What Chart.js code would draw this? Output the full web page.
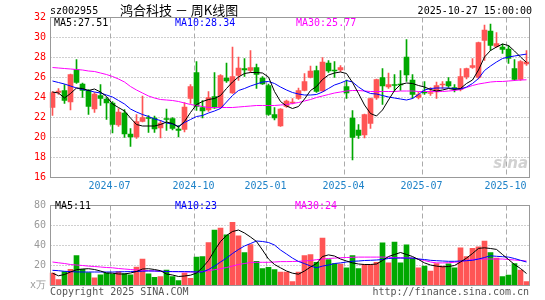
<!DOCTYPE html>
<html>
<head>
<meta charset="utf-8">
<script src="https://cdn.jsdelivr.net/npm/chart.js@4/dist/chart.umd.min.js"></script>
<style>
  html, body { margin: 0; padding: 0; background: #fff; }
  #wrap { position: relative; width: 545px; height: 300px; overflow: hidden; }
  #kline { position: absolute; left: 0; top: 0; }
  #vol { position: absolute; left: 0; top: 196px; }
</style>
</head>
<body>
<div id="wrap">
  <canvas id="kline" width="545" height="196"></canvas>
  <canvas id="vol" width="545" height="104"></canvas>
</div>
<script>
// 周K数据
const opens = [23.0,24.5,24.7,23.55,26.8,25.35,24.7,22.85,24.2,23.85,
  23.45,21.25,22.45,20.35,20.05,21.6,22.0,21.95,20.95,21.9,
  21.9,20.85,20.8,23.9,26.5,23.0,22.75,24.1,23.0,25.95,
  24.45,26.2,26.9,26.7,27.0,25.95,25.2,22.3,21.15,23.1,
  23.45,23.9,24.7,26.0,26.7,24.65,27.45,26.75,26.75,25.1,
  21.95,20.75,20.25,21.4,23.95,26.0,25.05,25.3,25.35,28.05,
  25.75,24.0,24.55,24.4,24.55,25.25,25.6,25.0,24.8,26.05,
  27.0,26.0,29.7,30.65,29.1,29.05,28.85,26.9,25.8,27.35];
const closes = [24.5,24.65,23.7,26.3,25.5,24.7,23.1,24.35,23.9,23.45,
  21.3,22.55,20.35,20.05,21.6,22.0,21.9,20.85,21.45,21.8,
  20.9,20.7,23.05,25.1,23.1,22.65,24.0,22.95,26.2,25.65,
  26.1,26.95,26.75,27.0,26.3,25.35,22.3,21.95,22.85,23.65,
  23.55,24.7,25.6,26.65,24.6,27.55,26.65,26.65,27.0,24.45,
  20.0,20.2,22.3,23.9,25.8,25.15,25.3,25.2,25.25,26.25,
  24.3,24.3,24.45,24.5,25.2,25.35,25.15,24.85,26.1,26.9,
  27.2,29.5,30.75,29.2,29.4,28.8,27.9,25.8,27.6,27.55];
const highs = [24.6,24.9,25.3,26.35,27.8,25.45,24.8,24.5,25.3,24.0,
  23.6,22.9,22.8,20.9,22.3,24.15,22.2,22.15,21.7,22.85,
  22.0,21.2,23.5,25.3,27.6,23.7,24.6,26.5,26.3,27.45,
  29.05,28.05,27.9,28.7,27.35,26.1,25.35,23.0,22.9,23.75,
  23.9,24.95,26.4,27.15,27.15,28.0,27.7,27.6,27.2,25.75,
  22.7,21.3,22.35,23.95,25.85,26.9,26.45,26.3,26.7,29.8,
  26.3,24.55,25.6,25.0,25.55,25.6,26.0,25.3,26.9,26.95,
  27.9,29.55,31.25,31.35,30.5,29.35,29.2,27.8,27.7,28.7];
const lows = [22.2,24.3,23.4,22.75,25.4,24.0,22.3,22.5,23.2,21.8,
  20.45,21.1,20.0,19.1,19.9,21.55,20.5,20.5,19.95,20.7,
  20.75,20.05,20.55,23.4,22.7,21.95,22.6,22.9,22.9,25.5,
  24.4,25.7,26.1,26.5,24.9,25.3,22.2,21.75,21.1,23.0,
  23.35,23.8,24.65,25.95,24.5,24.6,26.5,26.0,26.6,23.9,
  17.75,19.9,19.95,20.9,23.8,23.3,24.9,24.6,24.7,25.6,
  23.9,23.85,24.3,24.2,23.9,24.9,25.0,24.55,24.65,25.85,
  26.9,25.85,27.7,28.7,29.0,28.4,27.4,25.7,25.7,27.2];

// 均线
const ma5 = [24.55,24.45,23.95,24.4,24.95,24.9,24.7,24.85,24.55,24.1,
  23.35,23.0,22.65,21.95,21.3,21.15,21.15,21.15,21.3,21.55,
  21.4,21.05,21.6,22.5,23.3,23.6,23.8,23.9,24.2,24.9,
  25.55,26.05,26.4,26.5,26.5,26.45,26.05,24.6,23.6,23.15,
  22.9,23.1,23.85,24.7,25.1,25.8,26.25,26.45,26.55,26.4,
  25.5,24.4,23.25,22.4,22.15,22.75,23.75,24.7,25.3,25.45,
  25.4,25.2,25.05,24.8,24.65,24.75,24.9,24.8,24.9,25.4,
  25.75,26.75,28.05,28.7,29.05,29.35,29.2,28.65,28.05,27.51];
const ma10 = [25.65,25.5,25.35,25.15,24.95,24.8,24.7,24.55,24.45,24.25,
  24.05,23.7,23.35,22.85,22.55,22.3,22.1,21.85,21.7,21.45,
  21.35,21.1,21.5,21.8,22.1,22.2,22.45,22.65,22.9,23.55,
  24.2,24.7,24.9,25.15,25.35,25.55,25.6,25.4,25.05,24.75,
  24.5,24.35,24.25,24.25,24.3,24.55,24.9,25.25,25.45,25.7,
  25.55,25.05,24.65,24.4,24.35,24.2,24.05,23.95,23.85,23.75,
  23.9,24.3,24.75,24.9,24.95,24.95,24.95,24.9,24.85,25.05,
  25.4,25.9,26.7,27.15,27.55,27.9,28.05,28.15,28.25,28.34];
const ma30 = [27.0,26.95,26.9,26.85,26.8,26.75,26.65,26.6,26.45,26.3,
  26.1,25.85,25.55,25.1,24.75,24.45,24.15,23.95,23.8,23.75,
  23.7,23.6,23.45,23.3,23.2,23.1,23.0,23.0,23.0,23.0,
  23.0,23.05,23.1,23.15,23.2,23.2,23.2,23.2,23.25,23.3,
  23.4,23.5,23.65,23.8,24.0,24.15,24.3,24.45,24.55,24.65,
  24.7,24.7,24.65,24.6,24.6,24.6,24.6,24.6,24.65,24.65,
  24.65,24.6,24.6,24.6,24.6,24.6,24.65,24.7,24.8,25.0,
  25.2,25.35,25.45,25.55,25.6,25.6,25.65,25.7,25.75,25.77];

// 成交量 (万)
const volumes = [12.3,5.8,13.9,16.1,30.0,16.1,12.9,7.7,10.6,12.3,
  11.3,13.9,11.9,10.6,18.4,26.5,11.6,8.1,9.0,15.5,
  9.0,4.8,12.3,7.1,28.4,29.0,42.9,55.5,57.4,50.6,
  63.2,49.7,32.9,41.0,24.2,16.8,18.1,15.8,13.5,13.5,
  3.9,13.5,30.0,31.0,23.2,47.4,25.8,21.9,21.3,17.7,
  30.0,16.8,21.0,21.0,23.2,42.6,22.6,43.5,22.6,40.6,
  27.4,17.7,19.4,14.5,21.9,19.4,21.6,17.7,37.7,29.0,
  37.1,38.7,44.5,32.9,27.4,9.0,10.3,21.9,15.5,3.9];
const volMa5 = [12.3,9.7,11.0,13.5,15.8,16.5,16.8,16.0,14.5,12.5,
  12.3,11.5,11.5,12.5,14.0,16.5,16.8,16.0,14.8,11.5,
  10.5,9.0,9.5,10.3,12.5,18.0,25.0,35.0,44.0,50.0,
  54.0,55.5,52.5,48.5,44.0,35.5,26.5,21.0,17.7,14.5,
  12.3,11.3,14.5,18.5,22.0,29.0,30.6,29.5,26.5,24.5,
  22.6,21.5,21.0,21.0,21.5,25.0,29.0,31.0,33.0,31.0,
  29.0,26.0,22.6,20.5,19.4,18.7,19.0,20.0,23.5,27.4,
  32.0,37.1,37.7,37.0,36.1,31.0,26.0,21.0,17.0,12.0];
const volMa10 = [15.2,14.8,14.2,13.9,13.6,13.5,13.5,13.5,13.5,13.5,
  13.5,13.6,13.8,13.9,14.0,14.3,14.5,14.5,14.3,14.0,
  13.9,13.9,13.9,13.8,13.6,13.5,16.0,19.4,23.5,27.4,
  32.0,36.0,39.5,42.0,44.5,44.0,43.0,40.5,35.5,31.5,
  27.4,24.0,21.9,19.5,17.7,19.4,20.5,22.0,22.6,23.5,
  24.2,24.5,25.0,25.2,25.5,26.0,27.0,27.4,27.4,27.4,
  27.4,26.5,26.0,25.2,24.8,24.5,24.2,24.2,24.5,24.8,
  25.2,26.5,28.0,29.7,29.2,28.8,28.4,27.0,25.2,23.5];
const volMa30 = [23.5,22.7,22.0,21.0,20.5,20.0,19.4,19.0,18.5,18.0,
  17.7,17.0,16.5,16.0,15.5,15.2,14.8,14.5,14.2,14.0,
  13.9,13.8,13.6,13.5,13.5,14.0,14.8,15.8,16.8,18.0,
  19.5,21.0,22.0,23.0,23.2,23.2,23.2,23.5,23.9,23.9,
  24.0,24.2,24.5,25.0,25.8,26.5,27.0,27.4,27.8,28.0,
  28.2,28.4,28.4,28.4,28.4,28.4,28.2,28.0,27.8,27.6,
  27.4,26.5,25.0,23.5,22.6,22.6,22.8,23.2,24.0,25.0,
  26.0,26.5,26.5,26.5,26.5,26.5,26.0,25.5,25.0,24.5];

// 月份刻度
const monthIndex = [10, 24, 36, 49, 62, 76];
const monthLabels = ['2024-07', '2024-10', '2025-01', '2025-04', '2025-07', '2025-10'];

// 文字
const stockCode = 'sz002955';
const chartTitle = '鸿合科技 － 周K线图';
const updateTime = '2025-10-27 15:00:00';
const priceLegend = ['MA5:27.51', 'MA10:28.34', 'MA30:25.77'];
const volLegend = ['MA5:11', 'MA10:23', 'MA30:24'];

const RED = '#ff5555';
const GREEN = '#00a800';
const MONO = '"DejaVu Sans Mono", monospace';
const candleColors = closes.map((c, i) => c >= opens[i] ? RED : GREEN);
const labels = closes.map((c, i) => i);

Chart.defaults.font.family = MONO;
Chart.defaults.font.size = 10;

// 网格: 横向点线, 月份竖向虚线
const gridPlugin = {
  id: 'dashGrid',
  beforeDatasetsDraw(chart) {
    const { ctx, chartArea: a, scales: { x, y } } = chart;
    ctx.save();
    ctx.lineWidth = 1;
    ctx.strokeStyle = '#a0a0a0';
    ctx.setLineDash([1, 2]);
    y.ticks.forEach(t => {
      if (t.value <= y.min || t.value >= y.max) return;
      const py = Math.round(y.getPixelForValue(t.value) - 0.5) + 0.5;
      ctx.beginPath();
      ctx.moveTo(a.left + 1, py);
      ctx.lineTo(a.right, py);
      ctx.stroke();
    });
    ctx.strokeStyle = '#aaaaaa';
    ctx.setLineDash([5, 3]);
    const half = (a.right - a.left) / labels.length / 2;
    monthIndex.forEach(i => {
      const px = Math.floor(x.getPixelForValue(i) - half) + 1.5;
      ctx.beginPath();
      ctx.moveTo(px, a.top);
      ctx.lineTo(px, a.bottom);
      ctx.stroke();
    });
    ctx.restore();
  }
};

// 边框
const framePlugin = {
  id: 'frame',
  afterDatasetsDraw(chart) {
    const a = chart.chartArea;
    const ctx = chart.ctx;
    ctx.save();
    ctx.strokeStyle = '#999';
    ctx.lineWidth = 1;
    ctx.strokeRect(a.left + 1, a.top, a.right - a.left - 1, a.bottom - a.top);
    ctx.restore();
  }
};

function drawLegend(ctx, items, xs, y) {
  const colors = ['#000000', '#0000ff', '#ff00ff'];
  ctx.textAlign = 'left';
  ctx.textBaseline = 'middle';
  ctx.font = '10px ' + MONO;
  items.forEach((t, i) => {
    ctx.fillStyle = colors[i];
    ctx.fillText(t, xs[i], y);
  });
}

const priceText = {
  id: 'priceText',
  beforeDatasetsDraw(chart) {
    const ctx = chart.ctx;
    ctx.save();
    ctx.font = 'italic bold 15px "DejaVu Sans", sans-serif';
    ctx.fillStyle = 'rgba(190,190,190,0.7)';
    ctx.textAlign = 'right';
    ctx.textBaseline = 'middle';
    ctx.fillText('sina', 528, 164);
    ctx.restore();
  },
  afterDraw(chart) {
    const ctx = chart.ctx;
    ctx.save();
    ctx.textBaseline = 'middle';
    ctx.fillStyle = '#000';
    ctx.font = '10px ' + MONO;
    ctx.textAlign = 'left';
    ctx.fillText(stockCode, 50, 11.5);
    ctx.textAlign = 'right';
    ctx.fillText(updateTime, 532, 11.5);
    ctx.textAlign = 'left';
    ctx.font = '13px "Noto Sans CJK SC", sans-serif';
    ctx.fillText(chartTitle, 120, 10.5);
    drawLegend(ctx, priceLegend, [54, 175, 296], 23.5);
    ctx.restore();
  }
};

const volText = {
  id: 'volText',
  afterDraw(chart) {
    const ctx = chart.ctx;
    ctx.save();
    drawLegend(ctx, volLegend, [55, 175, 295], 10.5);
    ctx.fillStyle = '#555';
    ctx.textBaseline = 'middle';
    ctx.textAlign = 'left';
    ctx.fillText('Copyright 2025 SINA.COM', 50, 96.5);
    ctx.textAlign = 'right';
    ctx.fillText('http://finance.sina.com.cn', 529, 96.5);
    ctx.restore();
  }
};

function maLine(label, data, color) {
  return {
    type: 'line', label: label, data: data,
    borderColor: color, borderWidth: 1, pointRadius: 0,
    tension: 0, fill: false, order: 0
  };
}

// K线图
new Chart(document.getElementById('kline'), {
  type: 'bar',
  data: {
    labels: labels,
    datasets: [
      maLine('MA5', ma5, '#000000'),
      maLine('MA10', ma10, '#0000ff'),
      maLine('MA30', ma30, '#ff00ff'),
      {
        label: 'body', data: opens.map((o, i) => [o, closes[i]]),
        backgroundColor: candleColors, barThickness: 5, minBarLength: 1,
        grouped: false, order: 1
      },
      {
        label: 'wick', data: lows.map((l, i) => [l, highs[i]]),
        backgroundColor: candleColors, barThickness: 1,
        grouped: false, order: 2
      }
    ]
  },
  options: {
    responsive: false,
    animation: false,
    devicePixelRatio: 1,
    layout: { padding: { top: 17.5, right: 15.5, left: 0, bottom: 0 } },
    plugins: { legend: { display: false }, tooltip: { enabled: false } },
    scales: {
      x: {
        offset: true,
        grid: { display: false, drawTicks: false },
        border: { display: false },
        ticks: {
          autoSkip: false, maxRotation: 0, minRotation: 0, padding: 3,
          labelOffset: -3,
          color: '#1e82c8',
          callback: (v, i) => {
            const k = monthIndex.indexOf(i);
            return k >= 0 ? monthLabels[k] : '';
          }
        },
        afterFit: s => { s.height = 18.5; }
      },
      y: {
        min: 16, max: 32,
        ticks: { stepSize: 2, color: '#ff0000', padding: 3.5 },
        grid: { display: false, drawTicks: false },
        border: { display: false },
        afterFit: s => { s.width = 49.5; }
      }
    }
  },
  plugins: [gridPlugin, framePlugin, priceText]
});

// 成交量图
new Chart(document.getElementById('vol'), {
  type: 'bar',
  data: {
    labels: labels,
    datasets: [
      maLine('MA5', volMa5, '#000000'),
      maLine('MA10', volMa10, '#0000ff'),
      maLine('MA30', volMa30, '#ff00ff'),
      {
        label: 'vol', data: volumes,
        backgroundColor: candleColors, barThickness: 5,
        grouped: false, order: 1
      }
    ]
  },
  options: {
    responsive: false,
    animation: false,
    devicePixelRatio: 1,
    layout: { padding: { top: 5.5, right: 15.5, left: 0, bottom: 0 } },
    plugins: { legend: { display: false }, tooltip: { enabled: false } },
    scales: {
      x: {
        offset: true,
        grid: { display: false, drawTicks: false },
        border: { display: false },
        ticks: { display: false },
        afterFit: s => { s.height = 14.5; }
      },
      y: {
        min: 0, max: 80,
        ticks: {
          stepSize: 20, color: '#999999', padding: 3.5,
          callback: v => v === 0 ? 'x万' : v
        },
        grid: { display: false, drawTicks: false },
        border: { display: false },
        afterFit: s => { s.width = 49.5; }
      }
    }
  },
  plugins: [gridPlugin, framePlugin, volText]
});
</script>
</body>
</html>
